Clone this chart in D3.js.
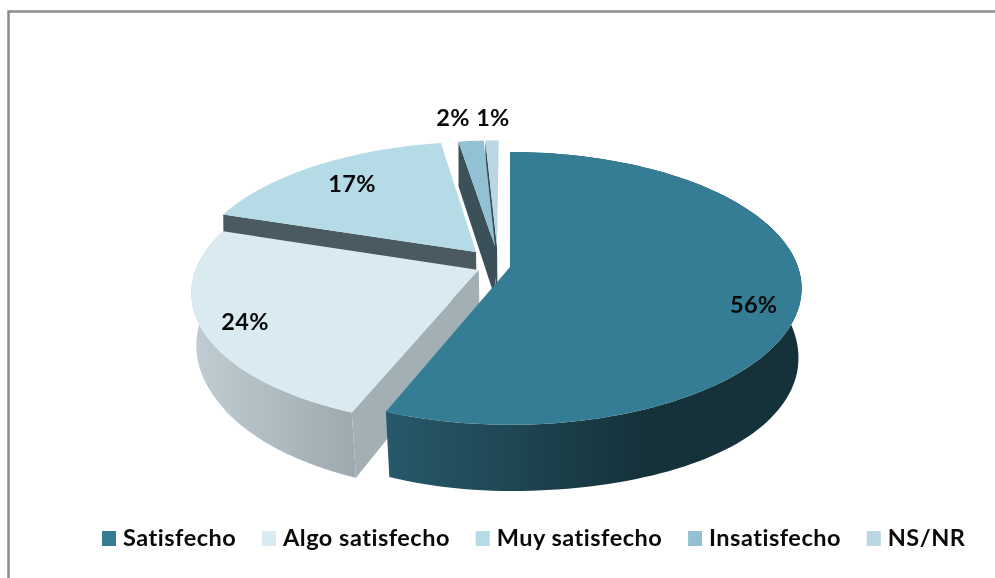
<!DOCTYPE html>
<html>
<head>
<meta charset="utf-8">
<script src="https://cdn.jsdelivr.net/npm/d3@7"></script>
<style>
  html, body { margin: 0; padding: 0; background: #fff; }
  svg { display: block; filter: blur(0.4px); }
  text { font-family: Lato, "Open Sans", sans-serif; font-weight: 700; fill: #0a0a0a; letter-spacing: 0.3px; }
  .legend text { letter-spacing: 0.5px; }
</style>
</head>
<body>
<script>
/* DATA */
const categories = ["Satisfecho", "Algo satisfecho", "Muy satisfecho", "Insatisfecho", "NS/NR"];
const shares = [56, 24, 17.4, 1.7, 0.9]; // rounded on the labels

/* CONSTANTS AND GLOBALS */
const width = 995, height = 578;
const topColors = ["#347d94", "#d9eaf1", "#b5dbe6", "#91c1d3", "#bad6e3"];
const cutColors = ["#1f4653", "#a2afb4", "#4a5a60", "#3b5058", "#3b5058"];
const wallFrom = ["#27596a", "#c0cdd2"];
const wallTo = ["#15313a", "#9eaab0"];

// perspective of the pie plane: u to the right, v towards the viewer
const cx = 510, cy = 267, ax = 288, by = 133, k = 0.157;
const shrink = 0.02, shrinkX = 560, depth = 54, depthPow = 1.2, skew = 0.3;
const apexes = [[0, 0], [-0.108, 0.0225], [-0.12, -0.115], [-0.053, -0.154], [-0.046, -0.154]];
const radii = [1, 0.98, 0.99, 0.965, 0.965];
const labelSpots = [[0.81, 0.273], [-0.864, 0.388], [-0.608, -0.692], [-0.24, -1.36], [-0.072, -1.37]];

const project = ([u, v]) => {
  const w = 1 - k * v;
  return [cx + ax * u / w, cy + by * v / w];
};
const projectLow = ([u, v]) => {
  const w = 1 - k * v;
  const [x, y] = project([u, v]);
  // the wall gets a bit taller towards the right hand side
  const drop = depth / Math.pow(w, depthPow) * (1 + skew * Math.pow(Math.max(u, 0), 2));
  // and pulls in sideways only towards the front
  const pull = shrink * Math.min(Math.max(v + 0.5, 0), 1);
  return [x + (shrinkX - x) * pull, y + drop];
};

const svg = d3.select("body").append("svg")
  .attr("width", width)
  .attr("height", height);

// outer frame
svg.append("path")
  .attr("d", `M8.5,578V11.5H995`)
  .attr("fill", "none")
  .attr("stroke", "#8c8c8c")
  .attr("stroke-width", 2.5);

const color = d3.scaleOrdinal().domain(categories).range(topColors);
const pie = d3.pie().sort(null).value(d => d.share);
const slices = pie(categories.map((name, i) => ({ name, share: shares[i], i })));

const line = d3.line();
const defs = svg.append("defs");

// painter's order: rear slices first
const order = [4, 3, 2, 1, 0];
order.forEach(i => {
  const s = slices[i];
  const [au, av] = apexes[i];
  const r = radii[i];
  const rim = d3.range(0, 121).map(t => {
    const a = s.startAngle + (s.endAngle - s.startAngle) * t / 120;
    return [au + r * Math.sin(a), av - r * Math.cos(a)];
  });
  const apex = [au, av];
  const g = svg.append("g").attr("class", "slice");
  const upRim = rim.map(project);

  // outer wall, shaded across its width (the rear slices never show one)
  if (i < 2) {
    const lowRim = rim.map(projectLow);
    const xs = upRim.map(p => p[0]);
    const gradId = "wall" + i;
    const grad = defs.append("linearGradient")
      .attr("id", gradId)
      .attr("gradientUnits", "userSpaceOnUse")
      .attr("x1", i === 0 ? 387 : d3.min(xs)).attr("x2", i === 0 ? 650 : d3.max(xs))
      .attr("y1", 0).attr("y2", 0);
    grad.append("stop").attr("offset", 0).attr("stop-color", wallFrom[i]);
    grad.append("stop").attr("offset", 1).attr("stop-color", wallTo[i]);

    g.append("path")
      .attr("d", line(upRim.concat(lowRim.slice().reverse())) + "Z")
      .attr("fill", `url(#${gradId})`);
  }

  // only the leading cut face can be seen from the front
  g.append("path")
    .attr("d", line([project(apex), project(rim[0]), projectLow(rim[0]), projectLow(apex)]) + "Z")
    .attr("fill", cutColors[i]);

  // top face
  g.append("path")
    .attr("d", line([project(apex)].concat(upRim)) + "Z")
    .attr("fill", color(s.data.name));
});

// percentage labels
svg.append("g").selectAll("text")
  .data(slices)
  .enter()
  .append("text")
  .attr("x", d => project(labelSpots[d.data.i])[0])
  .attr("y", d => project(labelSpots[d.data.i])[1])
  .attr("dy", "0.36em")
  .attr("text-anchor", "middle")
  .attr("font-size", "23.5px")
  .text(d => Math.round(d.data.share) + "%");

// legend, laid out from the measured text widths
let legendX = 102;
const legend = svg.append("g").attr("class", "legend");
categories.forEach(name => {
  legend.append("rect")
    .attr("x", legendX)
    .attr("y", 531)
    .attr("width", 14)
    .attr("height", 15)
    .attr("fill", color(name));
  const label = legend.append("text")
    .attr("x", legendX + 21)
    .attr("y", 546)
    .attr("font-size", "23.5px")
    .text(name);
  legendX += 21 + label.node().getComputedTextLength() + 25.75;
});
</script>
</body>
</html>
